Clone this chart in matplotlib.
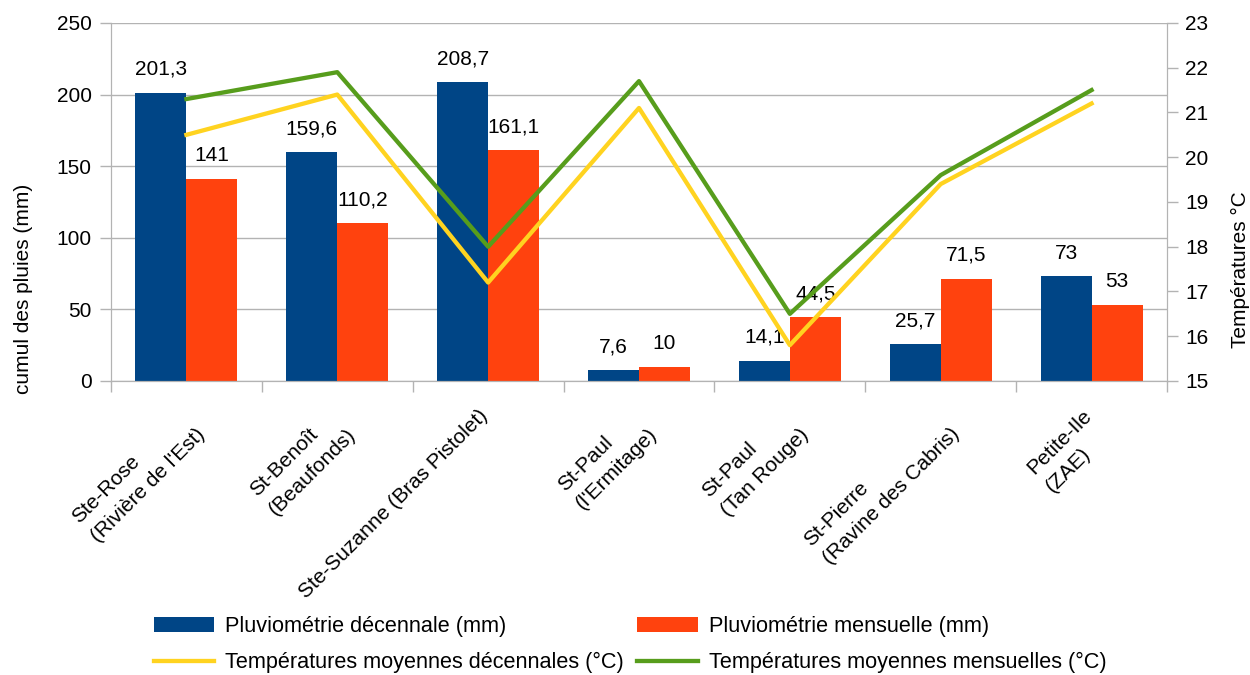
import numpy as np
import matplotlib
matplotlib.use("Agg")
import matplotlib.pyplot as plt
import matplotlib.transforms as mtransforms
from matplotlib.ticker import FixedLocator

plt.rcParams["font.family"] = ["Liberation Sans", "DejaVu Sans"]

# data
stations = [
    "Ste-Rose\n(Rivière de l'Est)",
    "St-Benoît\n(Beaufonds)",
    "Ste-Suzanne (Bras Pistolet)",
    "St-Paul\n(l'Ermitage)",
    "St-Paul\n(Tan Rouge)",
    "St-Pierre\n(Ravine des Cabris)",
    "Petite-Ile\n(ZAE)",
]
pluie_decennale = [201.3, 159.6, 208.7, 7.6, 14.1, 25.7, 73]
pluie_mensuelle = [141, 110.2, 161.1, 10, 44.5, 71.5, 53]
temp_decennale = [20.5, 21.4, 17.2, 21.1, 15.8, 19.4, 21.2]
temp_mensuelle = [21.3, 21.9, 18.0, 21.7, 16.5, 19.6, 21.5]

BLUE = "#004586"
ORANGE = "#ff420e"
YELLOW = "#ffd320"
GREEN = "#579d1c"
GRID = "#b3b3b3"
FS = 15


def fmt(v):
    return f"{v:g}".replace(".", ",")


fig = plt.figure(figsize=(12.5, 6.75), dpi=100)
ax = fig.add_axes([0.0888, 0.4356, 0.8448, 0.5304])
ax2 = ax.twinx()

x = np.arange(len(stations))
width = 0.338

b1 = ax.bar(x - width / 2, pluie_decennale, width, color=BLUE, label="Pluviométrie décennale (mm)", zorder=2)
b2 = ax.bar(x + width / 2, pluie_mensuelle, width, color=ORANGE, label="Pluviométrie mensuelle (mm)", zorder=2)
ax.bar_label(b1, labels=[fmt(v) for v in pluie_decennale], padding=10, fontsize=FS)
ax.bar_label(b2, labels=[fmt(v) for v in pluie_mensuelle], padding=10, fontsize=FS)

l1, = ax2.plot(x, temp_decennale, color=YELLOW, lw=3.1, label="Températures moyennes décennales (°C)")
l2, = ax2.plot(x, temp_mensuelle, color=GREEN, lw=3.1, label="Températures moyennes mensuelles (°C)")

ax.set_xlim(-0.5, len(stations) - 0.5)
ax.set_ylim(0, 250)
ax.set_yticks(np.arange(0, 251, 50))
ax2.set_ylim(15, 23)
ax2.set_yticks(np.arange(15, 24, 1))

ax.grid(axis="y", color=GRID, lw=1, zorder=0)
ax.set_axisbelow(True)

for a in (ax, ax2):
    for s in a.spines.values():
        s.set_color(GRID)
    a.spines["top"].set_visible(False)
    a.tick_params(axis="y", colors=GRID, labelcolor="black", labelsize=FS, length=8, width=1)
ax.tick_params(axis="y", pad=6)
ax2.tick_params(axis="y", pad=5)

# category labels at centers, tick marks at category boundaries
ax.set_xticks(x)
ax.set_xticklabels(stations, rotation=45, ha="right", va="top", rotation_mode="anchor",
                   fontsize=FS, multialignment="left", linespacing=1.5)
ax.tick_params(axis="x", which="major", length=0, pad=18)
ax.xaxis.set_minor_locator(FixedLocator(np.arange(-0.5, len(stations), 1)))
ax.tick_params(axis="x", which="minor", length=8, color=GRID, width=1)
shift = mtransforms.ScaledTranslation(-0.1, 0, fig.dpi_scale_trans)
for lab in ax.get_xticklabels():
    lab.set_transform(lab.get_transform() + shift)

ax.set_ylabel("cumul des pluies (mm)", fontsize=FS, labelpad=17, y=0.257)
ax2.set_ylabel("Températures °C", fontsize=FS, labelpad=16, y=0.31)

fig.legend(
    handles=[b1, l1, b2, l2],
    loc="center",
    bbox_to_anchor=(0.504, 0.045),
    ncol=2,
    frameon=False,
    fontsize=15.6,
    handlelength=2.8,
    handletextpad=0.5,
    columnspacing=0.6,
    labelspacing=0.72,
)

fig.savefig("out.png", dpi=100)
